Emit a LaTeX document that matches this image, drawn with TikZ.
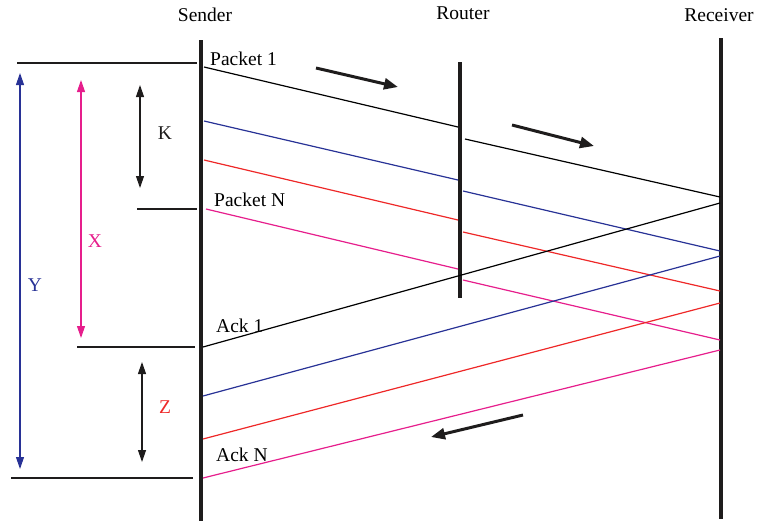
\documentclass[tikz,border=0pt]{standalone}
\usepackage{fontspec}
\setmainfont{Liberation Serif}
\usetikzlibrary{arrows.meta}
\definecolor{cblue}{RGB}{40,50,150}
\definecolor{cred}{RGB}{238,40,40}
\definecolor{cmag}{RGB}{230,30,140}
\definecolor{cdark}{RGB}{30,28,28}
\begin{document}
\begin{tikzpicture}[x=1pt,y=-1pt,
  life/.style={line width=4pt,cdark},
  msg/.style={line width=1.2pt},
  tick/.style={line width=1.2pt,cdark},
  dim/.style={line width=1.2pt,{Triangle[length=12pt,width=8pt]}-{Triangle[length=12pt,width=8pt]}},
  flow/.style={line width=3pt,cdark,-{Triangle[length=14pt,width=11pt]}},
  lbl/.style={font=\fontsize{19.5}{22}\selectfont,inner sep=0pt}]
\useasboundingbox (0,0) rectangle (763,523);
% lifelines
\coordinate (s1) at (201,40); \coordinate (s2) at (201,521);
\coordinate (r1) at (460,62); \coordinate (r2) at (460,298);
\coordinate (v1) at (721,38); \coordinate (v2) at (721,519);
\draw[life] (s1) -- (s2);
\draw[life] (r1) -- (r2);
\draw[life] (v1) -- (v2);
\node[lbl] (sender) at (205,15) {Sender};
\node[lbl] (router) at (463,13) {Router};
\node[lbl] (receiver) at (719,15) {Receiver};
% packets: sender -> router
\coordinate (p1a) at (204,67);  \coordinate (p1b) at (458,127);
\coordinate (p1c) at (465,139); \coordinate (p1d) at (720,197);
\coordinate (p2a) at (204,121); \coordinate (p2b) at (458,180);
\coordinate (p2c) at (463,191); \coordinate (p2d) at (720,251);
\coordinate (p3a) at (204,160); \coordinate (p3b) at (458,220);
\coordinate (p3c) at (463,232); \coordinate (p3d) at (720,291);
\coordinate (p4a) at (206,209); \coordinate (p4b) at (458,269);
\coordinate (p4c) at (463,280); \coordinate (p4d) at (720,340);
\draw[msg,black] (p1a) -- (p1b); \draw[msg,black] (p1c) -- (p1d);
\draw[msg,cblue] (p2a) -- (p2b); \draw[msg,cblue] (p2c) -- (p2d);
\draw[msg,cred] (p3a) -- (p3b); \draw[msg,cred] (p3c) -- (p3d);
\draw[msg,cmag] (p4a) -- (p4b); \draw[msg,cmag] (p4c) -- (p4d);
% acks: receiver -> sender
\coordinate (a1a) at (720,203); \coordinate (a1b) at (203,347);
\coordinate (a2a) at (720,256); \coordinate (a2b) at (203,396);
\coordinate (a3a) at (720,303); \coordinate (a3b) at (203,439);
\coordinate (a4a) at (720,350); \coordinate (a4b) at (203,478);
\draw[msg,black] (a1a) -- (a1b);
\draw[msg,cblue] (a2a) -- (a2b);
\draw[msg,cred] (a3a) -- (a3b);
\draw[msg,cmag] (a4a) -- (a4b);
% labels on lines
\node[lbl,anchor=west] (pk1) at (210,59) {Packet 1};
\node[lbl,anchor=west] (pkn) at (214,200) {Packet N};
\node[lbl,anchor=west] (ack1) at (216,326) {Ack 1};
\node[lbl,anchor=west] (ackn) at (216,455) {Ack N};
% horizontal reference ticks
\coordinate (h1a) at (17,63);  \coordinate (h1b) at (197,63);
\coordinate (h2a) at (137,209); \coordinate (h2b) at (197,209);
\coordinate (h3a) at (77,347);  \coordinate (h3b) at (195,347);
\coordinate (h4a) at (11,478);  \coordinate (h4b) at (193,478);
\draw[tick] (h1a) -- (h1b);
\draw[tick] (h2a) -- (h2b);
\draw[tick] (h3a) -- (h3b);
\draw[tick] (h4a) -- (h4b);
% dimension arrows
\coordinate (y1) at (20,73);  \coordinate (y2) at (20,469);
\coordinate (x1) at (81,80);  \coordinate (x2) at (81,338);
\coordinate (k1) at (140,85); \coordinate (k2) at (140,188);
\coordinate (z1) at (142,362); \coordinate (z2) at (142,462);
\draw[dim,cblue] (y1) -- (y2);
\draw[dim,cmag] (x1) -- (x2);
\draw[dim,cdark] (k1) -- (k2);
\draw[dim,cdark] (z1) -- (z2);
\node[lbl,text=cblue] (ylab) at (35,285) {Y};
\node[lbl,text=cmag] (xlab) at (95,241) {X};
\node[lbl,text=cdark] (klab) at (165,133) {K};
\node[lbl,text=cred] (zlab) at (165,407) {Z};
% direction arrows
\coordinate (f1a) at (316,68);  \coordinate (f1b) at (398,87);
\coordinate (f2a) at (512,125); \coordinate (f2b) at (594,146);
\coordinate (f3a) at (523,415); \coordinate (f3b) at (431,437);
\draw[flow] (f1a) -- (f1b);
\draw[flow] (f2a) -- (f2b);
\draw[flow] (f3a) -- (f3b);
\end{tikzpicture}
\end{document}
